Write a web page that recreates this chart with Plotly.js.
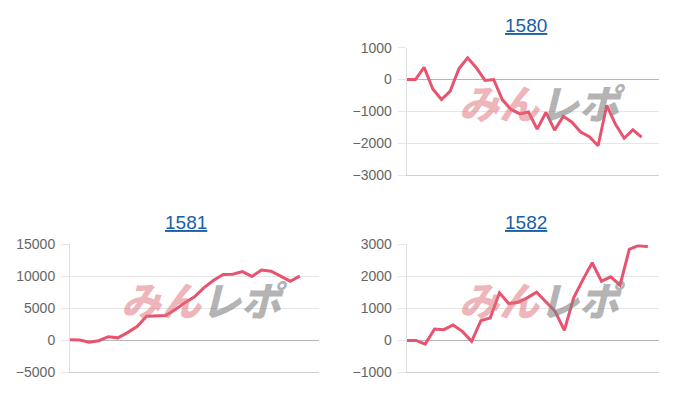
<!DOCTYPE html>
<html>
<head>
<meta charset="utf-8">
<script src="https://cdn.plot.ly/plotly-3.0.1.min.js"></script>
<style>html,body{margin:0;padding:0;background:#fff;}#chart{width:700px;height:400px;}</style>
</head>
<body>
<div id="chart"></div>
<script>
// Chart titles (machine numbers)
const titles = ["1580", "1581", "1582"];
// Cumulative values per machine, one point per day
const values1580 = [0, 0, 384, -300, -630, -365, 340, 680, 370, -30, 0, -640, -940, -1080, -1020, -1560, -1035, -1590, -1155, -1340, -1650, -1800, -2080, -810, -1410, -1845, -1580, -1810];
const values1581 = [100, 50, -270, -50, 580, 400, 1220, 2170, 3770, 3880, 3880, 4840, 5900, 6800, 8250, 9400, 10300, 10350, 10750, 10000, 11000, 10800, 10050, 9250, 10050];
const values1582 = [0, 0, -115, 357, 335, 482, 282, -30, 617, 702, 1486, 1150, 1190, 1330, 1505, 1222, 909, 313, 1330, 1900, 2425, 1850, 1985, 1725, 2843, 2968, 2928];
// Y tick settings per chart
const yRanges = [[-3000, 1000], [-5000, 15000], [-1000, 3000]];
const yDticks = [1000, 5000, 1000];
const xMax = [29, 26, 27.2];

const series = [values1580, values1581, values1582];
const lineColor = '#e8546f';
const fontFam = '"Liberation Sans", Arial, sans-serif';

const traces = series.map((vals, i) => ({
  type: 'scatter', mode: 'lines',
  x: vals.map((_, k) => k), y: vals,
  xaxis: i === 0 ? 'x' : 'x' + (i + 1),
  yaxis: i === 0 ? 'y' : 'y' + (i + 1),
  line: {color: lineColor, width: 3, shape: 'linear'},
  hoverinfo: 'skip', showlegend: false
}));

const xDomains = [[0.581, 0.9414], [0.1, 0.4557], [0.581, 0.9414]];
const yDomains = [[0.5625, 0.8808], [0.069, 0.389], [0.069, 0.389]];

function xa(i) {
  return {domain: xDomains[i], range: [0, xMax[i]], showticklabels: false, showgrid: false,
    zeroline: false, showline: true, linecolor: '#cfcfcf', linewidth: 1, ticks: '', fixedrange: true,
    anchor: i === 0 ? 'y' : 'y' + (i + 1)};
}
function ya(i) {
  return {domain: yDomains[i], range: yRanges[i], dtick: yDticks[i], tick0: 0,
    tickformat: 'd', exponentformat: 'none',
    showgrid: true, gridcolor: '#e6e6e6', gridwidth: 1,
    zeroline: true, zerolinecolor: '#b5b5b5', zerolinewidth: 1,
    showline: true, linecolor: '#e0e0e0', linewidth: 1,
    ticks: 'outside', ticklen: 8, tickcolor: '#e6e6e6', ticklabelstandoff: 3,
    tickfont: {family: fontFam, size: 14, color: '#666'},
    fixedrange: true, anchor: i === 0 ? 'x' : 'x' + (i + 1)};
}

const titlePos = [[0.751, 0.9375], [0.265, 0.443], [0.751, 0.443]];
const annotations = [];
titles.forEach((t, i) => {
  annotations.push({text: '<span style="text-decoration:underline">' + t + '</span>', xref: 'paper', yref: 'paper',
    x: titlePos[i][0], y: titlePos[i][1], xanchor: 'center', yanchor: 'middle', showarrow: false,
    font: {family: fontFam, size: 19, color: '#1a5fa8'}});
  annotations.push({text: '<i><span style="color:rgba(222,110,118,0.5)">みん</span><span style="color:rgba(130,130,130,0.6)">レポ</span></i>',
    xref: (i === 0 ? 'x' : 'x' + (i + 1)) + ' domain', yref: (i === 0 ? 'y' : 'y' + (i + 1)) + ' domain',
    x: 0.54, y: 0.57, xanchor: 'center', yanchor: 'middle', showarrow: false,
    font: {family: '"Noto Sans CJK JP", sans-serif', size: 40, weight: 900}});
});

const layout = {
  width: 700, height: 400, margin: {l: 0, r: 0, t: 0, b: 0},
  paper_bgcolor: '#fff', plot_bgcolor: '#fff', showlegend: false,
  xaxis: xa(0), yaxis: ya(0), xaxis2: xa(1), yaxis2: ya(1), xaxis3: xa(2), yaxis3: ya(2),
  annotations: annotations
};
Plotly.newPlot('chart', traces, layout, {displayModeBar: false, staticPlot: true});
</script>
</body>
</html>
